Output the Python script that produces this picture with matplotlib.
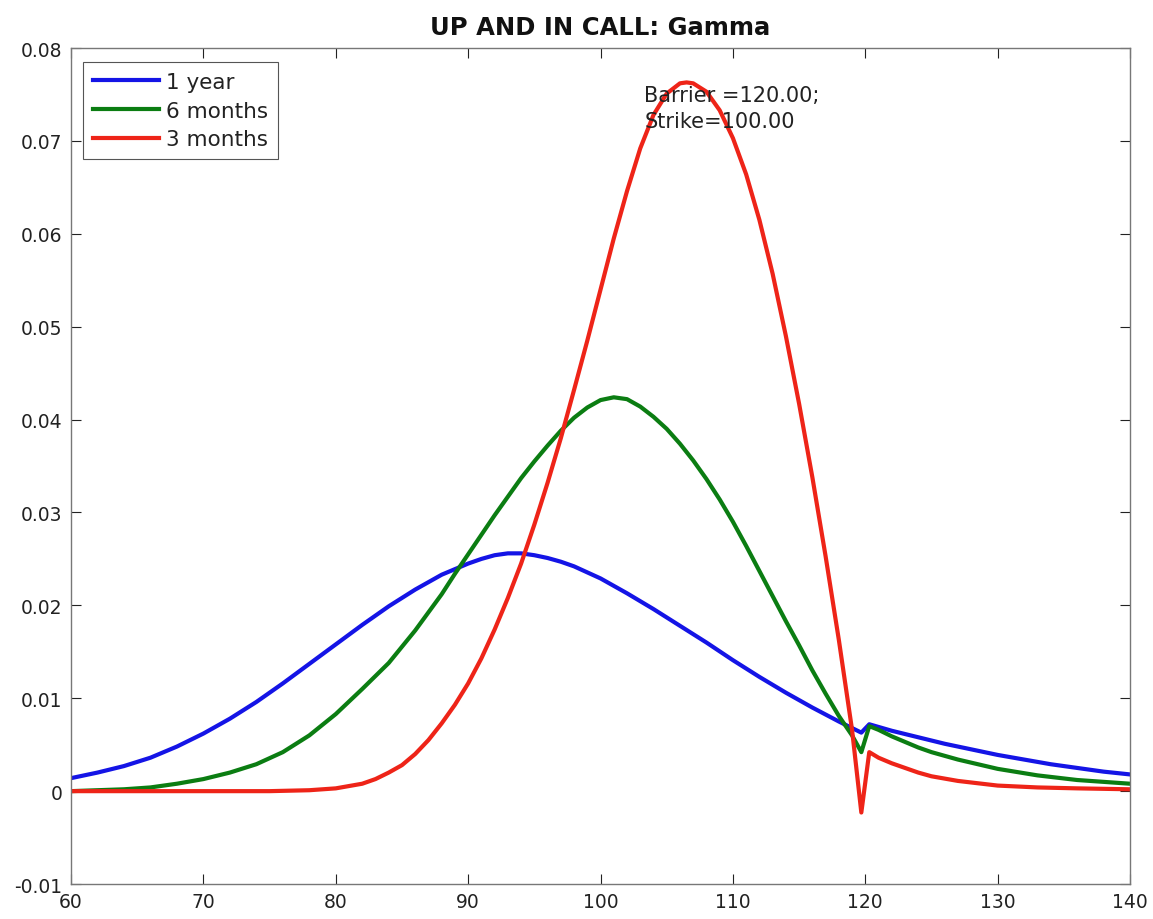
import numpy as np
import matplotlib
matplotlib.use("Agg")
import matplotlib.pyplot as plt
from matplotlib.ticker import FuncFormatter

# spot prices / gamma values
x_1y = [60, 62, 64, 66, 68, 70, 72, 74, 76, 78, 80, 82, 84, 86, 88, 90, 91, 92, 93,
        94, 95, 96, 97, 98, 100, 102, 104, 106, 108, 110, 112, 114, 116, 118, 119.7,
        120.3, 122, 124, 126, 128, 130, 132, 134, 136, 138, 140]
g_1y = [0.0014, 0.0020, 0.0027, 0.0036, 0.0048, 0.0062, 0.0078, 0.0096, 0.0116,
        0.0137, 0.0158, 0.0179, 0.0199, 0.0217, 0.0233, 0.0245, 0.0250, 0.0254,
        0.0256, 0.0256, 0.0254, 0.0251, 0.0247, 0.0242, 0.0229, 0.0213, 0.0196,
        0.0178, 0.0160, 0.0141, 0.0123, 0.0106, 0.0090, 0.0075, 0.0063, 0.0072,
        0.0065, 0.0058, 0.0051, 0.0045, 0.0039, 0.0034, 0.0029, 0.0025, 0.0021,
        0.0018]

x_6m = [60, 62, 64, 66, 68, 70, 72, 74, 76, 78, 80, 82, 84, 86, 88, 89, 90, 91, 92,
        93, 94, 95, 96, 97, 98, 99, 100, 101, 102, 103, 104, 105, 106, 107, 108, 109,
        110, 111, 112, 113, 114, 115, 116, 117, 118, 119, 119.7, 120.3, 121, 122,
        123, 124, 125, 127, 130, 133, 136, 140]
g_6m = [0.0000, 0.0001, 0.0002, 0.0004, 0.0008, 0.0013, 0.0020, 0.0029, 0.0042,
        0.0060, 0.0083, 0.0110, 0.0138, 0.0173, 0.0212, 0.0234, 0.0255, 0.0276,
        0.0297, 0.0317, 0.0337, 0.0355, 0.0372, 0.0388, 0.0402, 0.0413, 0.0421,
        0.0424, 0.0422, 0.0414, 0.0403, 0.0390, 0.0374, 0.0356, 0.0336, 0.0314,
        0.0290, 0.0264, 0.0237, 0.0210, 0.0183, 0.0157, 0.0130, 0.0105, 0.0081,
        0.0060, 0.0042, 0.0070, 0.0066, 0.0059, 0.0053, 0.0047, 0.0042, 0.0034,
        0.0024, 0.0017, 0.0012, 0.0008]

x_3m = [60, 65, 70, 75, 78, 80, 82, 83, 84, 85, 86, 87, 88, 89, 90, 91, 92, 93, 94,
        95, 96, 97, 98, 99, 100, 101, 102, 103, 104, 105, 106, 106.5, 107, 108, 109,
        110, 111, 112, 113, 114, 115, 116, 117, 118, 119, 119.7, 120.3, 121, 122,
        123, 124, 125, 127, 130, 133, 136, 140]
g_3m = [0.0, 0.0, 0.0, 0.0, 0.0001, 0.0003, 0.0008, 0.0013, 0.0020, 0.0028, 0.0040,
        0.0055, 0.0073, 0.0093, 0.0116, 0.0143, 0.0174, 0.0208, 0.0245, 0.0287,
        0.0332, 0.0380, 0.0432, 0.0485, 0.0540, 0.0595, 0.0646, 0.0692, 0.0728,
        0.0751, 0.0762, 0.0763, 0.0762, 0.0753, 0.0733, 0.0703, 0.0664, 0.0615,
        0.0557, 0.0490, 0.0417, 0.0338, 0.0253, 0.0163, 0.0066, -0.0023, 0.0042,
        0.0036, 0.0030, 0.0025, 0.0020, 0.0016, 0.0011, 0.0006, 0.0004, 0.0003,
        0.0002]

labels = ["1 year", "6 months", "3 months"]
colors = ["#1414e6", "#0b7d12", "#ee2418"]

xticks = [60, 70, 80, 90, 100, 110, 120, 130, 140]
yticks = [-0.01, 0, 0.01, 0.02, 0.03, 0.04, 0.05, 0.06, 0.07, 0.08]

plt.rcParams['font.family'] = ['DejaVu Sans']

fig = plt.figure(figsize=(11.53, 9.2), dpi=100)
ax = fig.add_axes([0.0616, 0.038, 0.9185, 0.9087])

for xs, ys, lab, c in zip([x_1y, x_6m, x_3m], [g_1y, g_6m, g_3m], labels, colors):
    ax.plot(xs, ys, color=c, lw=3.0, label=lab, solid_joinstyle='round')

ax.set_xlim(60, 140)
ax.set_ylim(-0.01, 0.08)
ax.set_xticks(xticks)
ax.set_yticks(yticks)
ax.yaxis.set_major_formatter(FuncFormatter(lambda v, p: "%g" % round(v, 4)))
ax.tick_params(direction='in', top=True, right=True, length=7, width=0.8,
               labelsize=13.5, colors='#222222', pad=6)
ax.tick_params(axis='x', pad=6)
for s in ax.spines.values():
    s.set_color('#777777')
    s.set_linewidth(1.0)

ax.set_title("UP AND IN CALL: Gamma", fontsize=17.5, fontweight='bold', pad=10,
             color='#111111')
ax.text(103.3, 0.0760, "Barrier =120.00;\nStrike=100.00", fontsize=15,
        va='top', ha='left', color='#222222', linespacing=1.35)

leg = ax.legend(loc='upper left', fontsize=15.5, handlelength=3.1, borderpad=0.45,
                labelspacing=0.4, fancybox=False, framealpha=1,
                bbox_to_anchor=(0.0113, 0.983), borderaxespad=0,
                handletextpad=0.3)
leg.get_frame().set_edgecolor('#555555')
leg.get_frame().set_linewidth(0.8)
for t in leg.get_texts():
    t.set_color('#222222')

fig.savefig("out.png", dpi=100)
